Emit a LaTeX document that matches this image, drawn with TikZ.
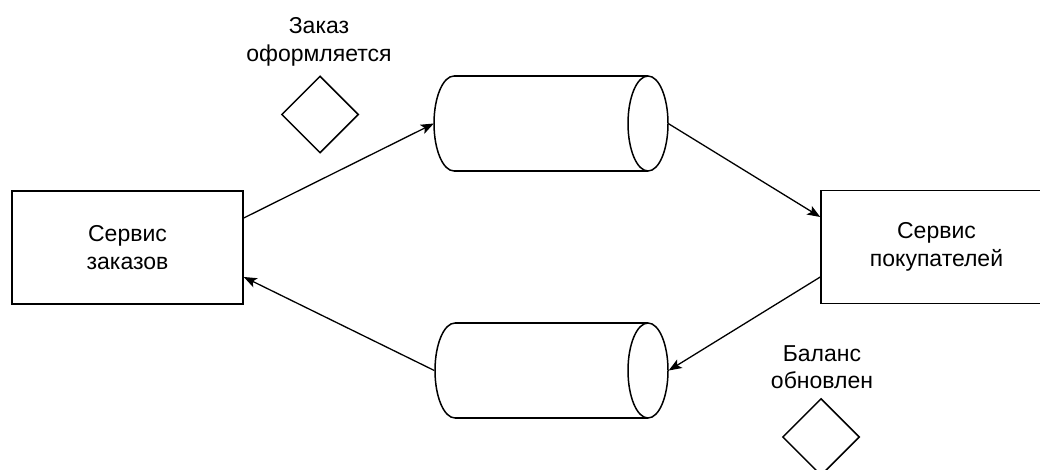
\documentclass[tikz,border=0pt]{standalone}
\usepackage{fontspec}
\setmainfont{Liberation Sans}
\usetikzlibrary{shapes.geometric,arrows.meta}
\begin{document}
\begin{tikzpicture}[x=1pt,y=-1pt,
  box/.style={draw,line width=1.5pt,minimum width=231pt,minimum height=113pt,inner sep=0pt,align=center,font=\fontsize{23}{27.6}\selectfont},
  lbl/.style={align=center,font=\fontsize{23}{27.6}\selectfont,inner sep=0pt},
  evt/.style={draw,diamond,line width=1.5pt,minimum width=77pt,minimum height=77pt,inner sep=0pt,aspect=1},
  qslot/.style={rectangle,minimum width=234pt,minimum height=95pt,inner sep=0pt},
  cyl/.style={line width=1.5pt},
  conn/.style={line width=1.3pt,-{Stealth[length=13pt,width=10pt,inset=3pt]}}]
\useasboundingbox (0,0) rectangle (1040,470);
% boxes
\node[box] (orders) at (127.5,247.5) {Сервис\\заказов};
\node[box] (customers) at (936.5,247) {Сервис\\покупателей};
% queues
\node[qslot] (q1) at (551,123.5) {};
\node[qslot] (q2) at (551.5,370.5) {};
\draw[cyl] (454,76) -- (648,76) (454,171) -- (648,171);
\draw[cyl] (454,76) arc[start angle=90,end angle=270,x radius=20,y radius=-47.5];
\draw[cyl] (648,123.5) ellipse[x radius=20,y radius=47.5];
\draw[cyl] (455,323) -- (648,323) (455,418) -- (648,418);
\draw[cyl] (455,323) arc[start angle=90,end angle=270,x radius=20,y radius=-47.5];
\draw[cyl] (648,370.5) ellipse[x radius=20,y radius=47.5];
% events
\node[evt] (e1) at (320,114.5) {};
\node[lbl] (l1) at (319,42) {Заказ\\оформляется};
\node[evt] (e2) at (821,437) {};
\node[lbl] (l2) at (822,367) {Баланс\\обновлен};
% connectors
\draw[conn] ([yshift=29.5pt]orders.east) -- (q1.west);
\draw[conn] (q1.east) -- ([yshift=30pt]customers.west);
\draw[conn] ([yshift=-30pt]customers.west) -- (q2.east);
\draw[conn] (q2.west) -- ([yshift=-29.5pt]orders.east);
\end{tikzpicture}
\end{document}
